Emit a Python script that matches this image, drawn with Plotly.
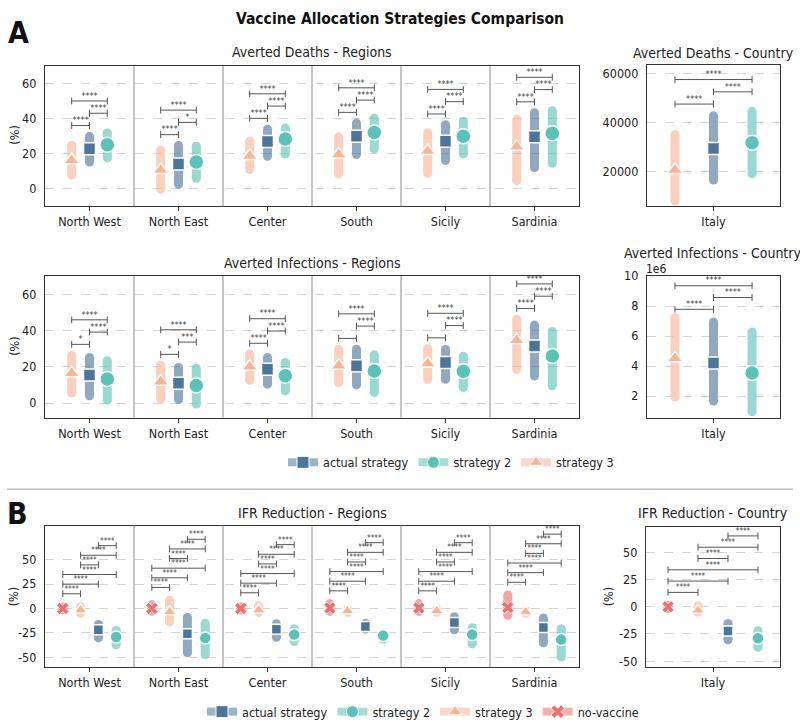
import plotly.graph_objects as go

# ---------------- categories & labels ----------------
regions = ["North West", "North East", "Center", "South", "Sicily", "Sardinia"]
country = ["Italy"]
strategy_names = {"act": "actual strategy", "s2": "strategy 2", "s3": "strategy 3", "nv": "no-vaccine"}

# ---------------- Averted deaths, regions (%) : median / low / high ----------------
deaths_act_mid = [22.8, 14.2, 26.9, 29.9, 27.1, 29.7]
deaths_act_lo = [15.3, 2.6, 18.5, 19.5, 16.1, 12.1]
deaths_act_hi = [29.9, 24.7, 34.0, 37.4, 36.5, 43.4]
deaths_s2_mid = [25.1, 15.3, 28.4, 32.1, 29.9, 31.6]
deaths_s2_lo = [17.6, 6.0, 19.8, 22.8, 19.9, 14.5]
deaths_s2_hi = [31.8, 24.3, 34.6, 40.2, 38.5, 44.5]
deaths_s3_mid = [16.3, 10.7, 18.7, 19.5, 21.5, 23.9]
deaths_s3_lo = [7.9, -0.2, 11.0, 8.6, 8.8, 4.5]
deaths_s3_hi = [24.7, 22.0, 27.1, 29.6, 31.8, 39.7]
deaths_sig_s3_act = ["****", "****", "****", "****", "****", "****"]
deaths_sig_act_s2 = ["****", "*", "****", "****", "****", "****"]
deaths_sig_s3_s2 = ["****", "****", "****", "****", "****", "****"]

# ---------------- Averted deaths, Italy (absolute) ----------------
deaths_it_act_mid = [29500]
deaths_it_act_lo = [16700]
deaths_it_act_hi = [42800]
deaths_it_s2_mid = [31900]
deaths_it_s2_lo = [19300]
deaths_it_s2_hi = [44700]
deaths_it_s3_mid = [20800]
deaths_it_s3_lo = [8200]
deaths_it_s3_hi = [35200]
deaths_it_sig = ["****", "****", "****"]

# ---------------- Averted infections, regions (%) ----------------
inf_act_mid = [15.5, 10.9, 18.6, 20.6, 22.3, 31.5]
inf_act_lo = [4.0, 1.9, 10.4, 10.0, 13.1, 14.9]
inf_act_hi = [25.1, 19.6, 25.1, 29.7, 29.5, 43.0]
inf_s2_mid = [13.3, 9.7, 15.1, 17.7, 17.5, 26.0]
inf_s2_lo = [1.6, -0.5, 6.8, 5.8, 8.6, 9.5]
inf_s2_hi = [23.3, 19.1, 22.4, 26.6, 25.8, 39.5]
inf_s3_mid = [16.4, 11.8, 20.0, 20.6, 21.8, 34.6]
inf_s3_lo = [5.5, 2.2, 12.5, 11.3, 13.1, 18.5]
inf_s3_hi = [26.4, 20.9, 27.0, 29.7, 30.0, 46.2]
inf_sig_s3_act = ["*", "*", "****", "", "", "****"]
inf_sig_act_s2 = ["****", "***", "****", "****", "****", "****"]
inf_sig_s3_s2 = ["****", "****", "****", "****", "****", "****"]

# ---------------- Averted infections, Italy (absolute) ----------------
inf_it_act_mid = [4.20e6]
inf_it_act_lo = [1.67e6]
inf_it_act_hi = [6.94e6]
inf_it_s2_mid = [3.54e6]
inf_it_s2_lo = [0.95e6]
inf_it_s2_hi = [6.28e6]
inf_it_s3_mid = [4.52e6]
inf_it_s3_lo = [1.93e6]
inf_it_s3_hi = [7.23e6]
inf_it_sig = ["****", "****", "****"]
inf_it_tickvals = [2e6, 4e6, 6e6, 8e6, 10e6]
inf_it_ticktext = ["2", "4", "6", "8", "10"]

# ---------------- IFR reduction, regions (%) ----------------
ifr_nv_mid = [0.0, 0.0, 0.0, 0.5, 0.5, 1.0]
ifr_nv_lo = [-1.5, -3.0, -1.5, -3.0, -3.0, -7.0]
ifr_nv_hi = [1.5, 4.0, 1.5, 5.0, 5.0, 13.8]
ifr_s3_mid = [-1.6, -3.3, -1.6, -2.3, -2.3, -3.3]
ifr_s3_lo = [-5.0, -13.7, -4.0, -4.0, -4.0, -5.0]
ifr_s3_hi = [2.0, 8.5, 3.0, -1.0, -1.0, -2.0]
ifr_act_mid = [-21.8, -25.8, -21.2, -18.4, -14.4, -19.5]
ifr_act_lo = [-30.2, -45.4, -29.5, -21.2, -21.8, -35.3]
ifr_act_hi = [-16.4, -9.1, -15.7, -15.1, -8.4, -9.7]
ifr_s2_mid = [-29.2, -30.2, -26.8, -27.8, -26.8, -31.9]
ifr_s2_lo = [-37.3, -47.4, -33.9, -31.3, -36.3, -49.7]
ifr_s2_hi = [-22.5, -15.1, -20.8, -25.2, -19.8, -20.8]
ifr_sig = ["****", "****", "****", "****", "****", "****"]

# ---------------- IFR reduction, Italy (%) ----------------
ifr_it_nv_mid = [0.0]
ifr_it_nv_lo = [-1.5]
ifr_it_nv_hi = [1.5]
ifr_it_s3_mid = [-3.3]
ifr_it_s3_lo = [-5.0]
ifr_it_s3_hi = [1.0]
ifr_it_act_mid = [-22.3]
ifr_it_act_lo = [-30.4]
ifr_it_act_hi = [-15.4]
ifr_it_s2_mid = [-29.0]
ifr_it_s2_lo = [-37.4]
ifr_it_s2_hi = [-22.0]
ifr_tickvals = [-50, -25, 0, 25, 50]
ifr_ticktext = ["-50", "-25", "0", "25", "50"]

# ================= styling / layout =================
W, H = 800, 727
FONT = "DejaVu Sans Condensed, Roboto, sans-serif"
TXT = "#222222"
STY = {
    "act": dict(color="#4d7599", symbol="square"),
    "s2": dict(color="#5cc2b7", symbol="circle"),
    "s3": dict(color="#f9b497", symbol="triangle-up"),
    "nv": dict(color="#f07070", symbol="x"),
}
SIZE_A = {"act": 12, "s2": 15, "s3": 14, "nv": 13}
SIZE_B = {"act": 10, "s2": 12, "s3": 12, "nv": 11}
OFF3 = {"s3": -0.2, "act": 0.0, "s2": 0.2}
OFF4 = {"nv": -0.3, "s3": -0.1, "act": 0.1, "s2": 0.3}
PAIRS3 = [("s3", "act"), ("act", "s2"), ("s3", "s2")]
PAIRS4 = [("nv", "s3"), ("nv", "act"), ("nv", "s2"), ("s3", "act"), ("s3", "s2"), ("act", "s2")]
BAR_W = 9
BAR_OPACITY = 0.62


def rgba(hexc, a):
    h = hexc.lstrip("#")
    return "rgba(%d,%d,%d,%.2f)" % (int(h[0:2], 16), int(h[2:4], 16), int(h[4:6], 16), a)


panels = [
    dict(n=1, box=(45, 579, 59, 202), xr=[-0.5, 5.5], yr=[-10, 70], cats=regions,
         series={"s3": (deaths_s3_mid, deaths_s3_lo, deaths_s3_hi),
                 "act": (deaths_act_mid, deaths_act_lo, deaths_act_hi),
                 "s2": (deaths_s2_mid, deaths_s2_lo, deaths_s2_hi)},
         off=OFF3, pairs=PAIRS3, labels=[deaths_sig_s3_act, deaths_sig_act_s2, deaths_sig_s3_s2],
         tv=[0, 20, 40, 60], tt=None, base=11, step=12.5, sizes=SIZE_A, sigfont=9, sep=True),
    dict(n=2, box=(647, 780, 58, 202), xr=[-0.345, 0.345], yr=[6000, 63500], cats=country,
         series={"s3": (deaths_it_s3_mid, deaths_it_s3_lo, deaths_it_s3_hi),
                 "act": (deaths_it_act_mid, deaths_it_act_lo, deaths_it_act_hi),
                 "s2": (deaths_it_s2_mid, deaths_it_s2_lo, deaths_it_s2_hi)},
         off=OFF3, pairs=PAIRS3, labels=[[deaths_it_sig[0]], [deaths_it_sig[1]], [deaths_it_sig[2]]],
         tv=[20000, 40000, 60000], tt=None, base=12, step=12.5, sizes=SIZE_A, sigfont=9, sep=False),
    dict(n=3, box=(45, 579, 273, 417), xr=[-0.5, 5.5], yr=[-8, 70], cats=regions,
         series={"s3": (inf_s3_mid, inf_s3_lo, inf_s3_hi),
                 "act": (inf_act_mid, inf_act_lo, inf_act_hi),
                 "s2": (inf_s2_mid, inf_s2_lo, inf_s2_hi)},
         off=OFF3, pairs=PAIRS3, labels=[inf_sig_s3_act, inf_sig_act_s2, inf_sig_s3_s2],
         tv=[0, 20, 40, 60], tt=None, base=11, step=12.5, sizes=SIZE_A, sigfont=9, sep=True),
    dict(n=4, box=(647, 780, 273, 417), xr=[-0.345, 0.345], yr=[0.57e6, 10e6], cats=country,
         series={"s3": (inf_it_s3_mid, inf_it_s3_lo, inf_it_s3_hi),
                 "act": (inf_it_act_mid, inf_it_act_lo, inf_it_act_hi),
                 "s2": (inf_it_s2_mid, inf_it_s2_lo, inf_it_s2_hi)},
         off=OFF3, pairs=PAIRS3, labels=[[inf_it_sig[0]], [inf_it_sig[1]], [inf_it_sig[2]]],
         tv=inf_it_tickvals, tt=inf_it_ticktext, base=8.5, step=12, sizes=SIZE_A, sigfont=9, sep=False),
    dict(n=5, box=(45, 579, 527, 671), xr=[-0.5, 5.5], yr=[-60, 85], cats=regions,
         series={"nv": (ifr_nv_mid, ifr_nv_lo, ifr_nv_hi),
                 "s3": (ifr_s3_mid, ifr_s3_lo, ifr_s3_hi),
                 "act": (ifr_act_mid, ifr_act_lo, ifr_act_hi),
                 "s2": (ifr_s2_mid, ifr_s2_lo, ifr_s2_hi)},
         off=OFF4, pairs=PAIRS4, labels=[ifr_sig] * 6,
         tv=ifr_tickvals, tt=ifr_ticktext, base=13, step=9.8, sizes=SIZE_B, sigfont=8, sep=True),
    dict(n=6, box=(646, 780, 528, 671), xr=[-0.447, 0.447], yr=[-55.4, 73.8], cats=country,
         series={"nv": (ifr_it_nv_mid, ifr_it_nv_lo, ifr_it_nv_hi),
                 "s3": (ifr_it_s3_mid, ifr_it_s3_lo, ifr_it_s3_hi),
                 "act": (ifr_it_act_mid, ifr_it_act_lo, ifr_it_act_hi),
                 "s2": (ifr_it_s2_mid, ifr_it_s2_lo, ifr_it_s2_hi)},
         off=OFF4, pairs=PAIRS4, labels=[[ifr_sig[k]] for k in range(6)],
         tv=ifr_tickvals, tt=ifr_ticktext, base=13, step=11.5, sizes=SIZE_B, sigfont=8, sep=False),
]

fig = go.Figure()
layout = {}
shapes = []

for p in panels:
    n = p["n"]
    sfx = "" if n == 1 else str(n)
    xa, ya = "x" + sfx, "y" + sfx
    x0, x1, top, bot = p["box"]
    ncat = len(p["cats"])
    layout["xaxis" + sfx] = dict(
        domain=[x0 / W, x1 / W], range=p["xr"], anchor=ya,
        tickvals=list(range(ncat)), ticktext=p["cats"],
        showline=True, mirror=True, linecolor="#333", linewidth=1.2,
        ticks="outside", ticklen=4, tickcolor="#333", showgrid=False, zeroline=False,
        tickfont=dict(size=12.5, color=TXT), fixedrange=True)
    ydict = dict(
        domain=[1 - bot / H, 1 - top / H], range=p["yr"], anchor=xa,
        tickvals=p["tv"], tickformat="d", showline=True, mirror=True, linecolor="#333", linewidth=1.2,
        ticks="", ticklabelstandoff=5, showgrid=True, gridcolor="#d4d4d4", griddash="dash",
        gridwidth=1, zeroline=False, tickfont=dict(size=12.5, color=TXT), fixedrange=True)
    if p["tt"] is not None:
        ydict["ticktext"] = p["tt"]
    layout["yaxis" + sfx] = ydict

    # region separators
    if p["sep"]:
        for k in range(ncat - 1):
            shapes.append(dict(type="line", xref=xa, yref=ya + " domain", x0=k + 0.5, x1=k + 0.5,
                               y0=0, y1=1, line=dict(color="#8a8a8a", width=1), layer="above"))

    # interval bars (rounded)
    for key, (mid, lo, hi) in p["series"].items():
        xs, ys = [], []
        for i in range(len(mid)):
            xp = i + p["off"][key]
            xs += [xp, xp, None]
            ys += [lo[i], hi[i], None]
        c = STY[key]["color"]
        fig.add_trace(go.Scatter(x=xs, y=ys, mode="lines+markers", xaxis=xa, yaxis=ya,
                                 line=dict(color=c, width=BAR_W),
                                 marker=dict(size=BAR_W, color=c, symbol="circle", line=dict(width=0)),
                                 opacity=BAR_OPACITY, showlegend=False, hoverinfo="skip"))
    # central markers
    for key, (mid, lo, hi) in p["series"].items():
        xs = [i + p["off"][key] for i in range(len(mid))]
        c = STY[key]["color"]
        mline = dict(color="white", width=1.5) if key != "nv" else dict(color="white", width=1)
        fig.add_trace(go.Scatter(x=xs, y=mid, mode="markers", xaxis=xa, yaxis=ya,
                                 marker=dict(size=p["sizes"][key], color=c, symbol=STY[key]["symbol"],
                                             line=mline),
                                 showlegend=False, hoverinfo="skip"))

    # significance brackets
    ppd = (bot - top) / (p["yr"][1] - p["yr"][0])
    tk = 3.5 / ppd
    base = p["base"] / ppd
    step = p["step"] / ppd
    bx, by, tx, ty, tt = [], [], [], [], []
    for i in range(ncat):
        prev = None
        for j, (a, b) in enumerate(p["pairs"]):
            oa, ob = p["off"][a], p["off"][b]
            lo_o, hi_o = min(oa, ob), max(oa, ob)
            inside = [k for k in p["off"] if lo_o <= p["off"][k] <= hi_o]
            ymax = max(p["series"][k][2][i] for k in inside)
            y = ymax + base
            if prev is not None:
                y = max(y, prev + step)
            prev = y
            xa_, xb_ = i + oa, i + ob
            bx += [xa_, xa_, None, xa_, xb_, None, xb_, xb_, None]
            by += [y - tk, y + tk, None, y, y, None, y - tk, y + tk, None]
            lab = p["labels"][j][i]
            if lab:
                tx.append((xa_ + xb_) / 2)
                ty.append(y)
                tt.append(lab)
    fig.add_trace(go.Scatter(x=bx, y=by, mode="lines", xaxis=xa, yaxis=ya,
                             line=dict(color="#555555", width=1), showlegend=False, hoverinfo="skip"))
    fig.add_trace(go.Scatter(x=tx, y=ty, text=tt, mode="text", textposition="top center",
                             textfont=dict(size=p["sigfont"], color="#444444"), xaxis=xa, yaxis=ya,
                             showlegend=False, hoverinfo="skip"))

# legend entries
for lg, keys in (("legend", ["act", "s2", "s3"]), ("legend2", ["act", "s2", "s3", "nv"])):
    for key in keys:
        c = STY[key]["color"]
        fig.add_trace(go.Scatter(x=[None], y=[None], mode="lines+markers", name=strategy_names[key],
                                 legend=lg, line=dict(color=rgba(c, 0.55), width=8),
                                 marker=dict(size=12, color=c, symbol=STY[key]["symbol"],
                                             line=dict(color="white", width=1)),
                                 hoverinfo="skip"))

# horizontal separator between A and B
shapes.append(dict(type="line", xref="paper", yref="paper", x0=7 / W, x1=793 / W,
                   y0=1 - 490 / H, y1=1 - 490 / H, line=dict(color="#bdbdbd", width=1.5)))


def ann(text, px, py, size, bold=False, angle=0, color=TXT):
    return dict(text=("<b>%s</b>" % text) if bold else text, x=px / W, y=1 - py / H,
                xref="paper", yref="paper", xanchor="center", yanchor="middle",
                showarrow=False, textangle=angle, font=dict(size=size, color=color))


annotations = [
    ann("Vaccine Allocation Strategies Comparison", 400, 11.5, 15.5, bold=True, color="#111"),
    ann("A", 18, 25, 30, bold=True, color="#111"),
    ann("B", 17, 515, 30, bold=True, color="#111"),
    ann("Averted Deaths - Regions", 312, 45, 14),
    ann("Averted Deaths - Country", 713, 46, 14),
    ann("Averted Infections - Regions", 312, 260, 14),
    ann("Averted Infections - Country", 712, 249.5, 14),
    ann("IFR Reduction - Regions", 312, 514.5, 14),
    ann("IFR Reduction - Country", 713, 514.5, 14),
    ann("1e6", 656, 266, 12),
    ann("(%)", 15, 130, 12.5, angle=-90),
    ann("(%)", 15, 345, 12.5, angle=-90),
    ann("(%)", 13, 600, 12.5, angle=-90),
    ann("(%)", 608, 600, 12.5, angle=-90),
]

layout.update(dict(
    width=W, height=H, margin=dict(l=0, r=0, t=0, b=0),
    paper_bgcolor="white", plot_bgcolor="white",
    font=dict(family=FONT, color=TXT, size=12.5),
    shapes=shapes, annotations=annotations,
    legend=dict(orientation="h", x=451 / W, xanchor="center", y=1 - 463 / H, yanchor="middle",
                font=dict(size=12.5, color=TXT), bgcolor="rgba(0,0,0,0)"),
    legend2=dict(orientation="h", x=423 / W, xanchor="center", y=1 - 717 / H, yanchor="middle",
                 font=dict(size=12.5, color=TXT), bgcolor="rgba(0,0,0,0)"),
))
fig.update_layout(layout)
fig.write_html("out.html", config={"displayModeBar": False},
               post_script="document.body.style.margin='0';document.body.style.overflow='hidden';")
